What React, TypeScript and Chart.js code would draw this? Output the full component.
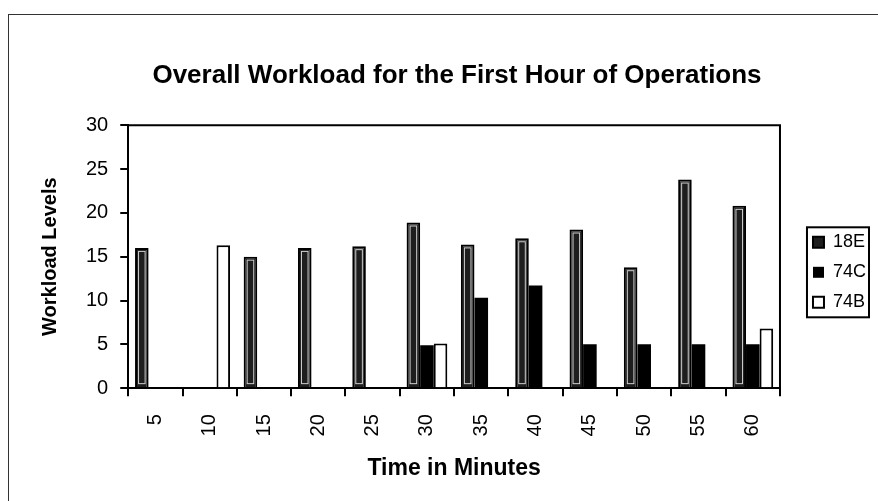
import React, { useEffect, useRef } from "react";
import { Chart, registerables } from "chart.js";

Chart.register(...registerables);

const categories = ["5", "10", "15", "20", "25", "30", "35", "40", "45", "50", "55", "60"];
const series18E = [16, null, 15, 16, 16.2, 18.9, 16.4, 17.1, 18.1, 13.8, 23.8, 20.8];
const series74C = [null, null, null, null, null, 4.9, 10.3, 11.7, 5, 5, 5, 5];
const series74B = [null, 16.3, null, null, null, 5.1, null, null, null, null, null, 6.8];
const yTicks = [0, 5, 10, 15, 20, 25, 30];

const FONT = "'Liberation Sans', Arial, Helvetica, sans-serif";

const framePlugin = {
  id: "frame",
  afterDatasetsDraw(chart: any) {
    const { ctx, chartArea } = chart;
    ctx.save();
    // inner light outline of 18E bars
    const meta = chart.getDatasetMeta(0);
    ctx.strokeStyle = "#cfcfcf";
    ctx.lineWidth = 1;
    meta.data.forEach((el: any, i: number) => {
      if (series18E[i] == null) return;
      const p = el.getProps(["x", "y", "base", "width"], true);
      const left = p.x - p.width / 2 + 3.5;
      ctx.strokeRect(left, p.y + 3.5, p.width - 7, p.base - p.y - 7);
    });
    ctx.strokeStyle = "#000";
    ctx.lineWidth = 2;
    ctx.beginPath();
    ctx.moveTo(chartArea.left, chartArea.top);
    ctx.lineTo(chartArea.right, chartArea.top);
    ctx.lineTo(chartArea.right, chartArea.bottom);
    ctx.stroke();
    ctx.restore();
  },
  afterDraw(chart: any) {
    const lg = chart.legend;
    if (!lg || !lg.legendHitBoxes || !lg.legendHitBoxes.length) return;
    const boxes = lg.legendHitBoxes;
    let minX = Infinity, minY = Infinity, maxX = -Infinity, maxY = -Infinity;
    boxes.forEach((b: any) => {
      minX = Math.min(minX, b.left);
      minY = Math.min(minY, b.top);
      maxX = Math.max(maxX, b.left + b.width);
      maxY = Math.max(maxY, b.top + b.height);
    });
    const { ctx } = chart;
    ctx.save();
    ctx.strokeStyle = "#000";
    ctx.lineWidth = 2;
    ctx.strokeRect(minX - 6, minY - 6, maxX - minX + 9, maxY - minY + 12);
    ctx.restore();
  },
};

export default function App() {
  const ref = useRef<HTMLCanvasElement | null>(null);
  useEffect(() => {
    if (!ref.current) return;
    const chart = new Chart(ref.current, {
      type: "bar",
      data: {
        labels: categories,
        datasets: [
          {
            label: "18E",
            data: series18E,
            backgroundColor: "#1e1e1e",
            borderColor: "#000",
            borderWidth: 2,
          },
          {
            label: "74C",
            data: series74C,
            backgroundColor: "#000",
            borderColor: "#000",
            borderWidth: 0,
          },
          {
            label: "74B",
            data: series74B,
            backgroundColor: "#fff",
            borderColor: "#000",
            borderWidth: 2,
          },
        ],
      },
      options: {
        responsive: false,
        animation: false,
        layout: { padding: { top: 8, left: 29, right: 2, bottom: 19 } },
        datasets: { bar: { categoryPercentage: 0.75, barPercentage: 1 } },
        plugins: {
          title: {
            display: true,
            text: "Overall Workload for the First Hour of Operations",
            color: "#000",
            font: { family: FONT, size: 26, weight: "bold" },
            padding: { top: 37, bottom: 34 },
          },
          legend: {
            position: "right",
            title: { display: true, text: " ", padding: 0, font: { family: FONT, size: 33 } },
            labels: {
              color: "#000",
              font: { family: FONT, size: 18 },
              boxWidth: 11,
              boxHeight: 11,
              padding: 12,
            },
          },
          tooltip: { enabled: false },
        },
        scales: {
          x: {
            type: "category",
            offset: true,
            grid: {
              offset: true,
              drawOnChartArea: false,
              drawTicks: true,
              tickLength: 8,
              color: "#000",
              lineWidth: 2,
            },
            border: { display: true, color: "#000", width: 2 },
            ticks: {
              minRotation: 90,
              maxRotation: 90,
              padding: 18,
              color: "#000",
              font: { family: FONT, size: 20 },
            },
            title: {
              display: true,
              text: "Time in Minutes",
              color: "#000",
              font: { family: FONT, size: 23, weight: "bold" },
              padding: { top: 0, bottom: 0 },
            },
          },
          y: {
            min: 0,
            max: 30,
            afterBuildTicks: (axis: any) => {
              axis.ticks = yTicks.map((v) => ({ value: v }));
            },
            grid: {
              drawOnChartArea: false,
              tickLength: 8,
              color: "#000",
              lineWidth: 2,
            },
            border: { display: true, color: "#000", width: 2 },
            ticks: {
              padding: 12,
              color: "#000",
              font: { family: FONT, size: 20 },
            },
            title: {
              display: true,
              text: "Workload Levels",
              color: "#000",
              font: { family: FONT, size: 20, weight: "bold" },
              padding: { top: 0, bottom: 12 },
            },
          },
          y2: {
            position: "right",
            min: 0,
            max: 30,
            grid: { display: false, drawTicks: false },
            border: { display: false },
            ticks: { display: false },
            afterFit: (s: any) => {
              s.width = 21;
            },
          },
        },
      },
      plugins: [framePlugin],
    });
    return () => chart.destroy();
  }, []);
  return (
    <div
      style={{
        position: "fixed",
        left: 8,
        top: 14,
        width: 869,
        height: 486,
        borderLeft: "1px solid #333",
        borderTop: "1px solid #333",
        background: "#fff",
      }}
    >
      <canvas ref={ref} width={869} height={486} style={{ display: "block" }} />
    </div>
  );
}
